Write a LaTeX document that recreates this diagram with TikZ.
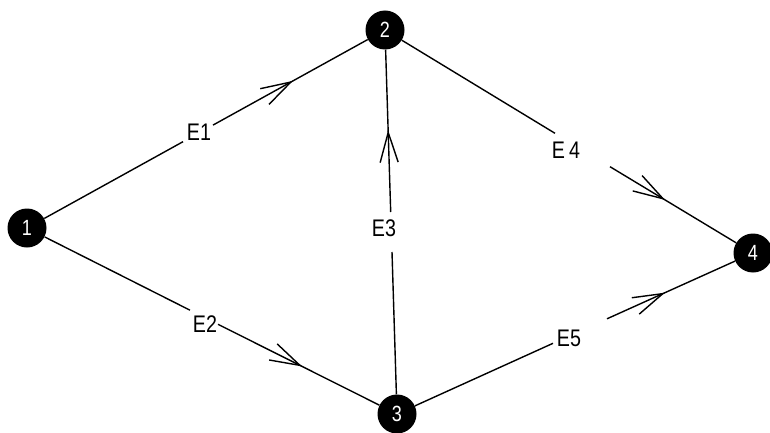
\documentclass[tikz,border=0pt]{standalone}
\usepackage{fontspec}
\setmainfont{Liberation Sans}
\newfontfamily\narrowfont[FakeStretch=0.82]{Liberation Sans}
\usetikzlibrary{arrows.meta,decorations.markings}
\begin{document}
\begin{tikzpicture}[x=1pt,y=-1pt,
  vertex/.style={circle,fill=black,minimum size=39pt,inner sep=0pt,text=white,font=\narrowfont\fontsize{22}{22}\selectfont},
  elabel/.style={inner sep=0pt,font=\narrowfont\fontsize{24}{24}\selectfont},
  edge/.style={line width=1.4pt},
  barb/.style={postaction={decorate},decoration={markings,mark=at position #1 with {\arrow{Straight Barb[length=30pt,width=18pt]}}}}
]
\useasboundingbox (0,0) rectangle (770,433);
% vertices
\node[vertex] (n1) at (27,228) {1};
\node[vertex] (n2) at (385,30) {2};
\node[vertex] (n3) at (397,414) {3};
\node[vertex] (n4) at (753,253) {4};
% labels
\node[elabel] (E1) at (199,132) {E1};
\node[elabel] (E2) at (205,324) {E2};
\node[elabel] (E3) at (384,228) {E3};
\node[elabel] (E4) at (566,150) {E\,4};
\node[elabel] (E5) at (569,338) {E5};
% gap coordinates
\coordinate (a1) at (183,141.7);
\coordinate (b1) at (213,125.1);
\coordinate (a2) at (190,310.2);
\coordinate (b2) at (218,324.3);
\coordinate (a3) at (392,252);
\coordinate (b3) at (390.7,212);
\coordinate (a4) at (555,133.3);
\coordinate (b4) at (610,166.7);
\coordinate (a5) at (553,343.3);
\coordinate (b5) at (607,318.8);
% edges
\draw[edge] (n1) -- (a1);
\draw[edge,barb=91.4pt] (b1) -- (n2);
\draw[edge] (n1) -- (a2);
\draw[edge,barb=94.1pt] (b2) -- (n3);
\draw[edge] (n3) -- (a3);
\draw[edge,barb=82.1pt] (b3) -- (n2);
\draw[edge] (n2) -- (a4);
\draw[edge,barb=64.4pt] (b4) -- (n4);
\draw[edge] (n3) -- (a5);
\draw[edge,barb=63.7pt] (b5) -- (n4);
\end{tikzpicture}
\end{document}
